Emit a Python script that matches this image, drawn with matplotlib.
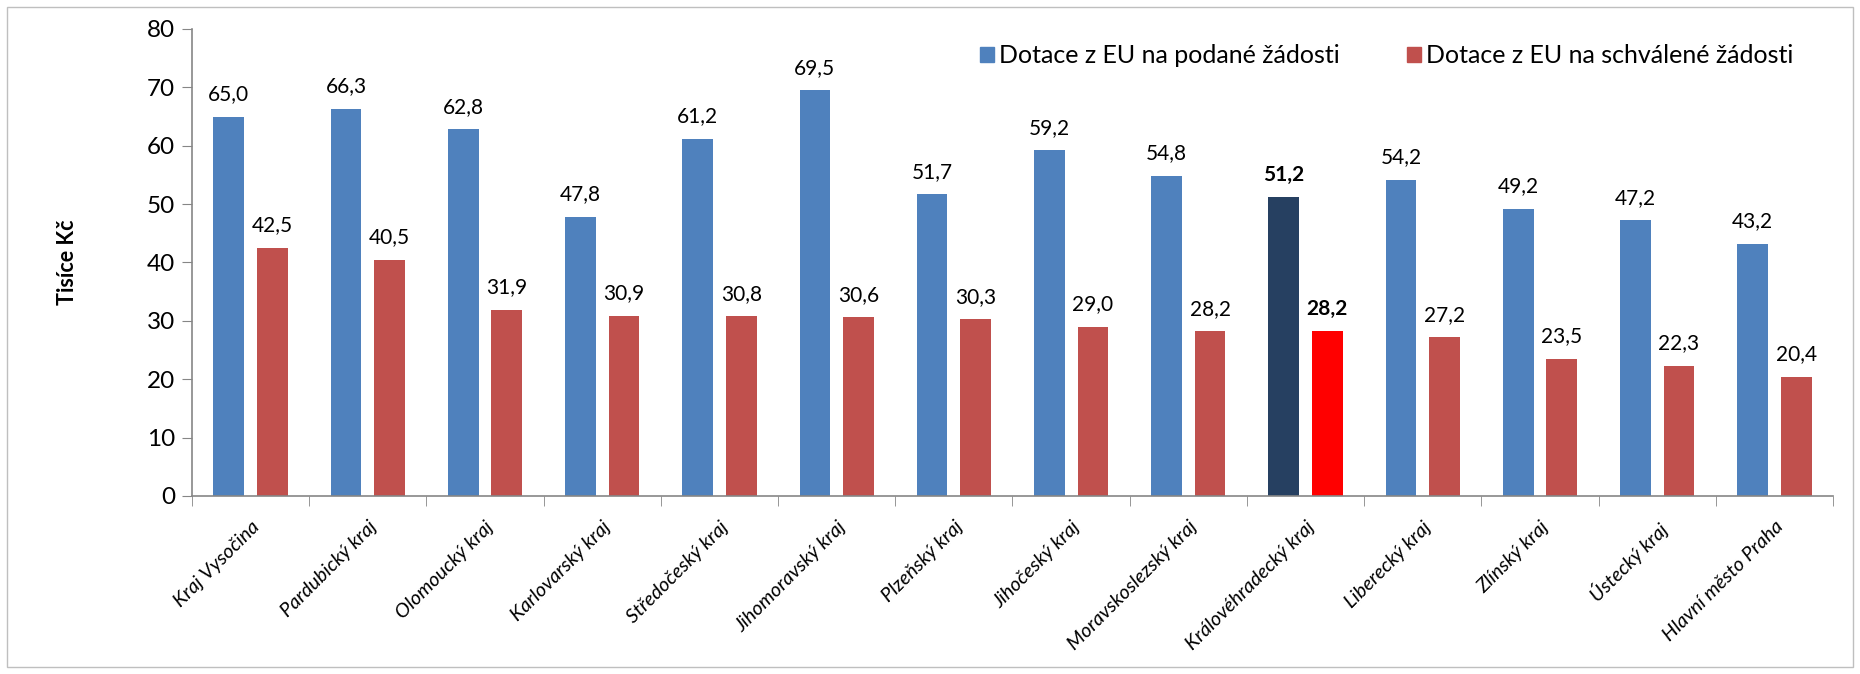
import numpy as np
import matplotlib.pyplot as plt
from matplotlib.patches import Rectangle, Patch

regions = ['Kraj Vysočina', 'Pardubický kraj', 'Olomoucký kraj', 'Karlovarský kraj',
           'Středočeský kraj', 'Jihomoravský kraj', 'Plzeňský kraj', 'Jihočeský kraj',
           'Moravskoslezský kraj', 'Královéhradecký kraj', 'Liberecký kraj',
           'Zlínský kraj', 'Ústecký kraj', 'Hlavní město Praha']
podane = [65.0, 66.3, 62.8, 47.8, 61.2, 69.5, 51.7, 59.2, 54.8, 51.2, 54.2, 49.2, 47.2, 43.2]
schvalene = [42.5, 40.5, 31.9, 30.9, 30.8, 30.6, 30.3, 29.0, 28.2, 28.2, 27.2, 23.5, 22.3, 20.4]
highlight = 'Královéhradecký kraj'
series_names = ['Dotace z EU na podané žádosti', 'Dotace z EU na schválené žádosti']

plt.rcParams['font.family'] = ['Lato', 'DejaVu Sans']

fig = plt.figure(figsize=(18.6, 6.74), dpi=100)
ax = fig.add_axes([0.1032, 0.2641, 0.8823, 0.6929])

x = np.arange(len(regions))
w = 0.262
off = 0.186
blue_cols = ['#264061' if r == highlight else '#4F81BD' for r in regions]
red_cols = ['#FF0000' if r == highlight else '#C0504D' for r in regions]
b1 = ax.bar(x - off, podane, w, color=blue_cols)
b2 = ax.bar(x + off, schvalene, w, color=red_cols)

for bars, vals in ((b1, podane), (b2, schvalene)):
    for i, (bar, v) in enumerate(zip(bars, vals)):
        bold = regions[i] == highlight
        ax.annotate('{:.1f}'.format(v).replace('.', ','),
                    (bar.get_x() + bar.get_width() / 2, v),
                    xytext=(0, 9), textcoords='offset points', ha='center', va='bottom',
                    fontsize=15, fontweight='bold' if bold else 'normal')

ax.set_xlim(-0.5, len(regions) - 0.5)
ax.set_ylim(0, 80)
ax.set_yticks(range(0, 81, 10))
ax.tick_params(axis='y', labelsize=17.5, length=7, color='#868686', pad=5)
ax.set_xticks(x)
ax.set_xticklabels(regions, rotation=45, ha='right', va='top', rotation_mode='anchor',
                   fontsize=14.3, fontstyle='italic')
ax.tick_params(axis='x', which='major', length=0, pad=16)
ax.set_xticks(np.arange(-0.5, len(regions), 1), minor=True)
ax.tick_params(axis='x', which='minor', length=7, color='#868686')
for s in ('top', 'right'):
    ax.spines[s].set_visible(False)
for s in ('left', 'bottom'):
    ax.spines[s].set_color('#868686')
    ax.spines[s].set_linewidth(1.2)

ax.set_ylabel('Tisíce Kč', fontsize=15.5, fontweight='bold', labelpad=50)

handles = [Patch(color='#4F81BD'), Patch(color='#C0504D')]
fig.legend(handles, series_names,
           loc='center left', bbox_to_anchor=(0.515, 0.917), ncol=2, frameon=False,
           fontsize=18, handlelength=0.55, handleheight=0.55, handletextpad=0.2,
           columnspacing=2.7)

fig.patches.append(Rectangle((0.004, 0.01), 0.992, 0.98, transform=fig.transFigure,
                             fill=False, edgecolor='#BFBFBF', linewidth=1))

plt.savefig('out.png')
